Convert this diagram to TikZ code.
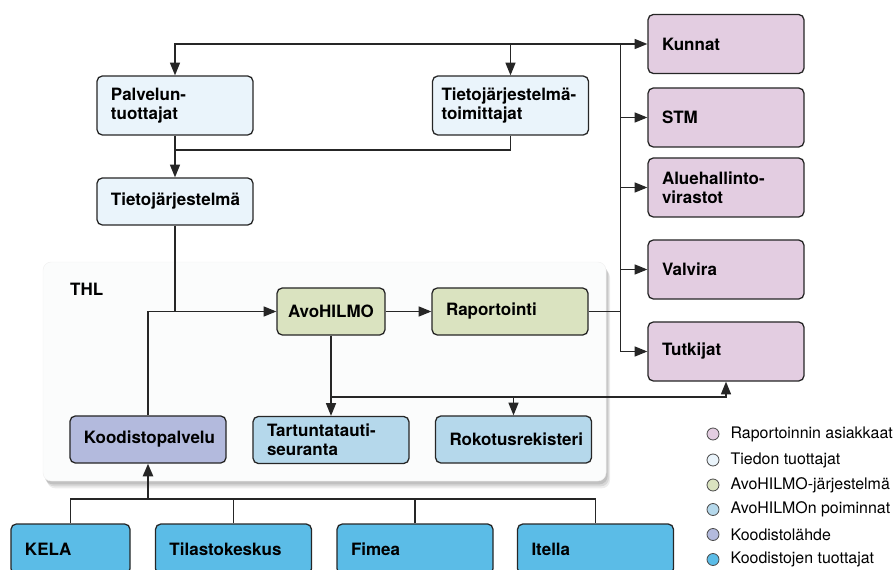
\documentclass[tikz,border=0pt]{standalone}
\usepackage{fontspec}
\setmainfont{TeX Gyre Heros}
\usetikzlibrary{shadows}
\usetikzlibrary{positioning}
\usetikzlibrary{arrows.meta}
\usetikzlibrary{calc}
\definecolor{clientpink}{RGB}{227,205,225}
\definecolor{srcblue}{RGB}{234,244,251}
\definecolor{avogreen}{RGB}{218,227,192}
\definecolor{pickblue}{RGB}{181,216,235}
\definecolor{codeviolet}{RGB}{179,186,221}
\definecolor{codecyan}{RGB}{91,188,231}
\definecolor{thlwhite}{RGB}{251,252,252}
\tikzstyle{boxfont}=[font=\fontsize{14.5}{16.2}\selectfont\bfseries]
\tikzstyle{infobox}=[rectangle,rounded corners=0.16cm,draw=black!85,line width=1.1pt,boxfont,align=left,inner xsep=0.42cm,inner ysep=0pt,text width=3.84cm,minimum height=1.41cm]
\tikzstyle{thlbox}=[rectangle,rounded corners=0.25cm,fill=thlwhite,draw=black!6,minimum width=16.89cm,minimum height=6.57cm,
  drop shadow={shadow xshift=0.12cm,shadow yshift=-0.22cm,fill=black!40,opacity=0.18},
  drop shadow={shadow xshift=0.09cm,shadow yshift=-0.16cm,fill=black!40,opacity=0.25},
  drop shadow={shadow xshift=0.05cm,shadow yshift=-0.1cm,fill=black!45,opacity=0.3}]
\tikzstyle{conn}=[draw=black!85,line width=1.1pt]
\tikzstyle{dot}=[circle,draw=black!70,line width=0.7pt,minimum size=0.36cm,inner sep=0pt]
\tikzstyle{legendtext}=[font=\fontsize{13.6}{16}\selectfont,inner sep=0pt,anchor=west]

\begin{document}
\begin{tikzpicture}[x=0.03cm, y=-0.03cm, >={Triangle[length=0.38cm,width=0.3cm]}]
  \path[use as bounding box, clip] (0,0) rectangle (895,570);

  % THL
  \node[thlbox] (thl) at (324.5,371.5) {};
  \node[boxfont, anchor=west, inner sep=0pt] (thllabel) at (70,289) {THL};

  % tiedon tuottajat
  \node[infobox, fill=srcblue, minimum height=1.77cm] (palvelun) at (175,105.5) {Palvelun-\\tuottajat};
  \node[infobox, fill=srcblue, minimum height=1.77cm, text width=4.14cm, inner xsep=0.27cm] (toimittajat) at (510.5,105.5) {Tietojärjestelmä-\\toimittajat};
  \node[infobox, fill=srcblue] (tjarj) at (175,201.5) {Tietojärjestelmä};

  % raportoinnin asiakkaat
  \foreach \name/\y/\txt in {kunnat/44/Kunnat, stm/117.5/STM, alue/187.5/{Aluehallinto-\\virastot}, valvira/269.5/Valvira, tutkijat/351.5/Tutkijat}
    \node[infobox, fill=clientpink, minimum height=1.77cm] (\name) at (726,\y) {\txt};

  % AvoHILMO
  \node[infobox, fill=avogreen, text width=, minimum width=3.24cm, align=center, inner xsep=0pt] (avo) at (331,311.5) {AvoHILMO};
  \node[infobox, fill=avogreen] (rap) at (510,311.5) {Raportointi};
  \node[infobox, fill=codeviolet] (koodisto) at (148,439.5) {Koodistopalvelu};
  \node[infobox, fill=pickblue] (tartunta) at (331,440) {Tartuntatauti-\\seuranta};
  \node[infobox, fill=pickblue] (rokotus) at (513.5,439.5) {Rokotusrekisteri};

  % koodistojen tuottajat
  \foreach \name/\x/\w/\txt in {kela/70.5/2.73cm/KELA, tilasto/233.5/3.84cm/Tilastokeskus, fimea/415/3.84cm/Fimea, itella/595.5/3.84cm/Itella}
    \node[infobox, fill=codecyan, text width=\w, minimum height=1.5cm] (\name) at (\x,549) {\txt};

  \coordinate (hub) at ([xshift=0.96cm]rap.east);
  \coordinate (merge) at (175,150);
  \coordinate (split) at (avo.south |- 0,397);
  \coordinate (bus) at (koodisto.south |- 0,499);

  % top loop
  \draw[conn,->] (hub |- kunnat.west) -| (palvelun.north);
  \draw[conn,->] (toimittajat.north |- kunnat.west) -- (toimittajat.north);
  \draw[conn,->] (hub |- kunnat.west) -- (kunnat.west);
  \draw[conn,->] (hub |- kunnat.west) |- (tutkijat.west);
  \foreach \name in {stm, alue, valvira}
    \draw[conn,->] (hub |- \name.west) -- (\name.west);
  \draw[conn] (rap.east) -- (hub);

  \draw[conn,->] (palvelun) -- (tjarj);
  \draw[conn] (toimittajat.south) |- (merge);
  \draw[conn] (tjarj.south) -- (tjarj.south |- avo.west);
  \draw[conn,->] (koodisto.north) |- (avo.west);
  \draw[conn,->] (avo) -- (rap);
  \draw[conn,->] (avo) -- (tartunta);
  \draw[conn,->] (split) -| (tutkijat.south);
  \draw[conn,->] (rokotus.north |- split) -- (rokotus.north);

  % bottom bus
  \draw[conn] (kela.north) |- (bus) -| (itella.north);
  \foreach \name in {tilasto, fimea}
    \draw[conn] (\name.north) -- (\name.north |- bus);
  \draw[conn,line width=2pt,->] (bus) -- (koodisto.south);

  % legend
  \foreach \y/\col/\txt [count=\i] in {434/clientpink/Raportoinnin asiakkaat, 460/srcblue/Tiedon tuottajat, 485/avogreen/AvoHILMO-järjestelmä, 509.5/pickblue/AvoHILMOn poiminnat, 534.5/codeviolet/Koodistolähde, 559.5/codecyan/Koodistojen tuottajat}{
    \node[dot, fill=\col] (dot\i) at (713,\y) {};
    \node[legendtext, right=0.33cm of dot\i] (leg\i) {\txt};
  }
\end{tikzpicture}
\end{document}
